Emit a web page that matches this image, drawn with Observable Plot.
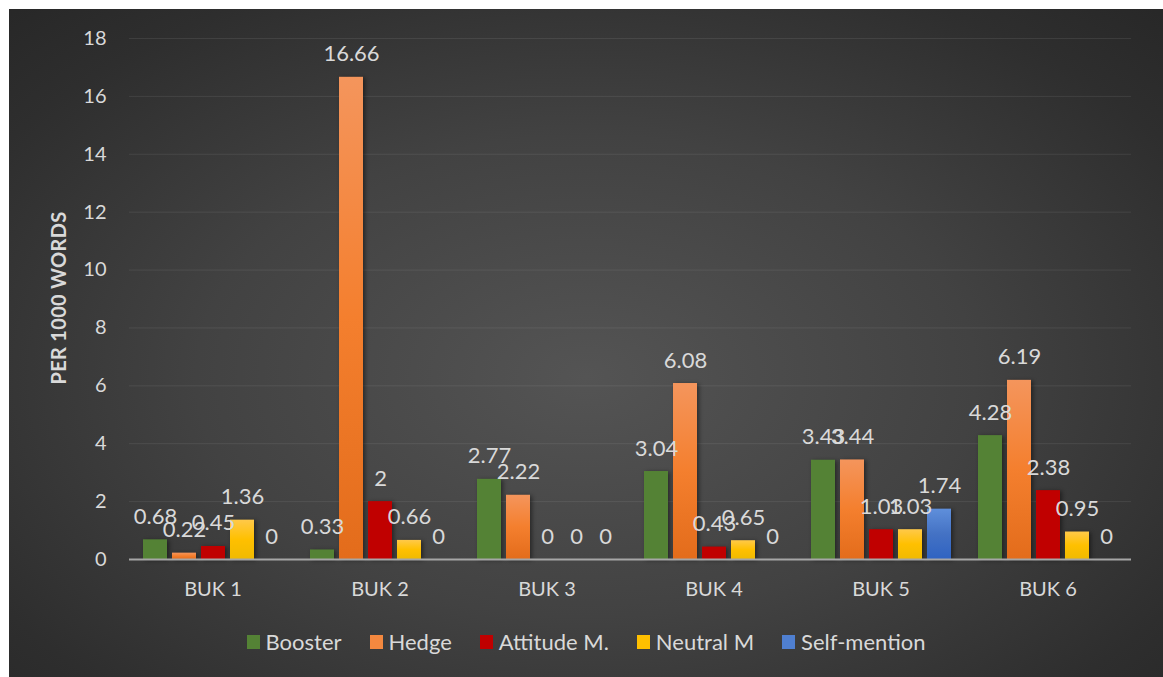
<!DOCTYPE html>
<html>
<head>
<meta charset="utf-8">
<script src="https://cdn.jsdelivr.net/npm/d3@7"></script>
<script src="https://cdn.jsdelivr.net/npm/@observablehq/plot@0.6"></script>
<style>
  html, body { margin: 0; padding: 0; background: #ffffff; }
  #chart {
    position: absolute; left: 9px; top: 9px; width: 1154px; height: 668px; overflow: hidden;
    background: radial-gradient(ellipse 75% 80% at 50% 55%, #545454 0%, #424242 45%, #2e2e2e 80%, #262626 100%);
    font-family: Lato, "Open Sans", sans-serif;
  }
  #ytitle {
    position: absolute; left: 49px; top: 289px; transform: translate(-50%, -50%) rotate(-90deg);
    color: #d9d9d9; font-weight: bold; font-size: 20px; white-space: nowrap; letter-spacing: 0.3px;
  }
  #legend {
    position: absolute; left: 0; width: 1154px; top: 619px; display: flex; justify-content: center;
    gap: 28px; color: #d9d9d9; font-size: 22px; line-height: 28px;
  }
  #legend .item { display: flex; align-items: center; }
  #legend .sw { width: 13px; height: 14px; margin-right: 6px; }
  g[aria-label="bar"] rect { filter: drop-shadow(2px 1px 2px rgba(0,0,0,0.45)); }
</style>
</head>
<body>
<svg width="0" height="0" style="position:absolute">
  <defs>
    <linearGradient id="gHedge" x1="0" y1="0" x2="0" y2="1">
      <stop offset="0" stop-color="#f4955c"/><stop offset="0.5" stop-color="#f47f2e"/><stop offset="1" stop-color="#e36c1b"/>
    </linearGradient>
    <linearGradient id="gNeutral" x1="0" y1="0" x2="0" y2="1">
      <stop offset="0" stop-color="#ffc94a"/><stop offset="0.5" stop-color="#ffc000"/><stop offset="1" stop-color="#f0ba00"/>
    </linearGradient>
    <linearGradient id="gSelf" x1="0" y1="0" x2="0" y2="1">
      <stop offset="0" stop-color="#5f8fdb"/><stop offset="0.5" stop-color="#4472c4"/><stop offset="1" stop-color="#2f63c2"/>
    </linearGradient>
  </defs>
</svg>
<div id="chart">
  <div id="ytitle">PER 1000 WORDS</div>
  <div id="legend"></div>
</div>
<script>
const categories = ["BUK 1", "BUK 2", "BUK 3", "BUK 4", "BUK 5", "BUK 6"];
const series = ["Booster", "Hedge", "Attitude M.", "Neutral M", "Self-mention"];
const booster = [0.68, 0.33, 2.77, 3.04, 3.43, 4.28];
const hedge = [0.22, 16.66, 2.22, 6.08, 3.44, 6.19];
const attitude = [0.45, 2, 0, 0.43, 1.03, 2.38];
const neutral = [1.36, 0.66, 0, 0.65, 1.03, 0.95];
const selfMention = [0, 0, 0, 0, 1.74, 0];
const yTicks = [0, 2, 4, 6, 8, 10, 12, 14, 16, 18];
const seriesColors = ["#548235", "url(#gHedge)", "#c00000", "url(#gNeutral)", "url(#gSelf)"];
const swatchColors = ["#548235", "#f4883f", "#c00000", "#ffc000", "#4f7fd0"];

const valuesBySeries = [booster, hedge, attitude, neutral, selfMention];
const data = categories.flatMap((c, i) =>
  series.map((s, j) => ({category: c, series: s, value: valuesBySeries[j][i]}))
);

const chart = Plot.plot({
  width: 1154,
  height: 610,
  marginLeft: 118,
  marginRight: 31,
  marginTop: 29,
  marginBottom: 60,
  style: {background: "transparent", color: "#d9d9d9", fontFamily: "Lato, 'Open Sans', sans-serif", fontSize: "20px"},
  fx: {domain: categories, padding: 0, label: null, axis: "bottom", tickSize: 0, tickPadding: 22, fontSize: 21},
  x: {domain: series, axis: null, paddingInner: 0.18, paddingOuter: 0.38},
  y: {domain: [0, 18], ticks: yTicks, grid: true, label: null, tickSize: 0, tickPadding: 23},
  color: {domain: series, range: seriesColors},
  marks: [
    Plot.barY(data, {fx: "category", x: "series", y: "value", fill: "series"}),
    Plot.ruleY([0], {stroke: "#a6a6a6", strokeWidth: 2}),
    Plot.text(data, {
      fx: "category", x: "series", y: "value", text: d => String(d.value),
      lineAnchor: "bottom", dy: -16, fill: "#d9d9d9", fontSize: 22
    })
  ]
});
chart.style.position = "absolute";
chart.style.left = "0px";
chart.style.top = "0px";
document.getElementById("chart").insertBefore(chart, document.getElementById("ytitle"));

const legend = document.getElementById("legend");
series.forEach((s, j) => {
  const item = document.createElement("div");
  item.className = "item";
  const sw = document.createElement("span");
  sw.className = "sw";
  sw.style.background = swatchColors[j];
  const label = document.createElement("span");
  label.textContent = s;
  item.appendChild(sw);
  item.appendChild(label);
  legend.appendChild(item);
});
</script>
</body>
</html>
